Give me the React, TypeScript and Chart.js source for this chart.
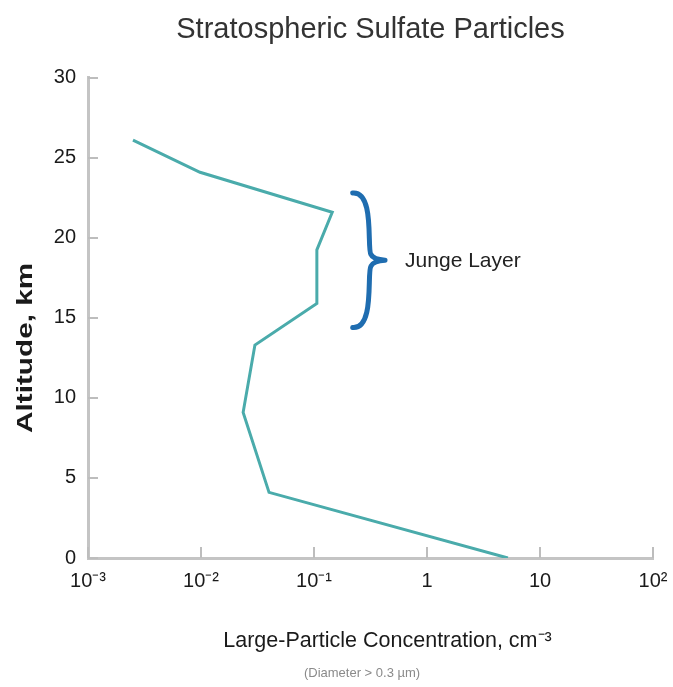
import React, { useEffect, useRef } from "react";
import { Chart, registerables } from "chart.js";

Chart.register(...registerables);

// ---- data ----
const altitudeKm = [26.1, 24.1, 21.6, 19.25, 15.9, 13.3, 9.1, 4.1, 0];
const concentration = [0.0025, 0.0098, 0.145, 0.106, 0.106, 0.03, 0.0236, 0.04, 5.2];

const xTickValues = [0.001, 0.01, 0.1, 1, 10, 100];
const xTickLabels = ["10⁻³", "10⁻²", "10⁻¹", "1", "10", "10²"];
const yTickValues = [0, 5, 10, 15, 20, 25, 30];

const titleText = "Stratospheric Sulfate Particles";
const xTitleText = "Large-Particle Concentration, cm⁻³";
const xSubtitleText = "(Diameter > 0.3 µm)";
const yTitleText = "Altitude, km";

// Junge layer annotation (data coordinates)
const braceTopKm = 22.8;
const braceBottomKm = 14.4;
const braceMidKm = 18.6;
const braceLeftConc = 0.22;
const braceRightConc = 0.425;
const jungeLabelConc = 0.64;
const jungeLabel = "Junge Layer";

const FONT = "'Liberation Sans', Arial, sans-serif";

const annotations = {
  id: "annotations",
  afterDatasetsDraw(chart: any) {
    const { ctx, scales, chartArea } = chart;
    const x = scales.x;
    const y = scales.y;
    ctx.save();
    // inward ticks
    ctx.strokeStyle = "#bdbdbd";
    ctx.lineWidth = 2;
    ctx.beginPath();
    for (const v of yTickValues) {
      const py = Math.round(y.getPixelForValue(v));
      ctx.moveTo(chartArea.left, py);
      ctx.lineTo(chartArea.left + 10, py);
    }
    for (const v of xTickValues) {
      const px = Math.round(x.getPixelForValue(v));
      ctx.moveTo(px, chartArea.bottom);
      ctx.lineTo(px, chartArea.bottom - 11);
    }
    ctx.stroke();

    // Brace
    const top = y.getPixelForValue(braceTopKm);
    const bot = y.getPixelForValue(braceBottomKm);
    const mid = y.getPixelForValue(braceMidKm);
    const l = x.getPixelForValue(braceLeftConc);
    const r = x.getPixelForValue(braceRightConc);
    const m = (l + r) / 2;
    ctx.strokeStyle = "#1f6db0";
    ctx.lineWidth = 5;
    ctx.lineCap = "round";
    ctx.beginPath();
    ctx.moveTo(l, top);
    ctx.bezierCurveTo(m + 6, top - 2, m - 2, mid - 12, m + 2, mid - 6);
    ctx.quadraticCurveTo(m + 4, mid - 1, r, mid);
    ctx.moveTo(r, mid);
    ctx.quadraticCurveTo(m + 4, mid + 1, m + 2, mid + 6);
    ctx.bezierCurveTo(m - 2, mid + 12, m + 6, bot + 2, l, bot);
    ctx.stroke();

    ctx.fillStyle = "#222";
    ctx.font = `21px ${FONT}`;
    ctx.textBaseline = "middle";
    ctx.textAlign = "left";
    ctx.fillText(jungeLabel, x.getPixelForValue(jungeLabelConc), mid + 1);

    // axis titles
    ctx.fillStyle = "#1a1a1a";
    ctx.textAlign = "center";
    ctx.textBaseline = "alphabetic";
    ctx.font = `21.5px ${FONT}`;
    ctx.fillText(xTitleText, chartArea.left + (chartArea.right - chartArea.left) * 0.53, chartArea.bottom + 89);
    ctx.fillStyle = "#8a8a8a";
    ctx.font = `13px ${FONT}`;
    ctx.fillText(xSubtitleText, chartArea.left + (chartArea.right - chartArea.left) * 0.485, chartArea.bottom + 119);

    ctx.save();
    ctx.translate(26, (chartArea.top + chartArea.bottom) / 2 + 30);
    ctx.rotate(-Math.PI / 2);
    ctx.scale(1.35, 1);
    ctx.fillStyle = "#1a1a1a";
    ctx.font = `bold 22px ${FONT}`;
    ctx.textBaseline = "middle";
    ctx.fillText(yTitleText, 0, 0);
    ctx.restore();

    ctx.restore();
  },
};

export default function App() {
  const ref = useRef<HTMLCanvasElement | null>(null);
  useEffect(() => {
    if (!ref.current) return;
    const data = concentration.map((c, i) => ({ x: c, y: altitudeKm[i] }));
    const chart = new Chart(ref.current, {
      type: "line",
      data: {
        datasets: [
          {
            data,
            borderColor: "#4aabab",
            borderWidth: 3,
            pointRadius: 0,
            fill: false,
            tension: 0,
          },
        ],
      },
      options: {
        animation: false,
        responsive: false,
        maintainAspectRatio: false,
        layout: { padding: { left: 0, right: 20, top: 0, bottom: 0 } },
        plugins: {
          legend: { display: false },
          tooltip: { enabled: false },
          title: {
            display: true,
            text: titleText,
            fullSize: false,
            color: "#333",
            font: { family: FONT, size: 29, weight: "normal" },
            padding: { top: 13, bottom: 30 },
          },
        },
        scales: {
          x: {
            type: "logarithmic",
            min: 0.001,
            max: 100,
            afterBuildTicks: (scale: any) => {
              scale.ticks = xTickValues.map((v) => ({ value: v }));
            },
            afterFit: (scale: any) => {
              scale.height = 129;
              scale.paddingLeft = 0;
              scale.paddingRight = 0;
            },
            grid: { display: false, drawTicks: false },
            border: { display: true, color: "#c4c4c4", width: 3 },
            ticks: {
              autoSkip: false,
              maxRotation: 0,
              padding: 11,
              color: "#1a1a1a",
              font: { family: FONT, size: 20 },
              callback: (v: any) => {
                const i = xTickValues.findIndex((t) => Math.abs(Math.log10(t) - Math.log10(Number(v))) < 1e-6);
                return i >= 0 ? xTickLabels[i] : "";
              },
            },
          },
          y: {
            type: "linear",
            min: 0,
            max: 30,
            afterBuildTicks: (scale: any) => {
              scale.ticks = yTickValues.map((v) => ({ value: v }));
            },
            afterFit: (scale: any) => {
              scale.width = 88;
              scale.paddingTop = 0;
              scale.paddingBottom = 0;
            },
            grid: { display: false, drawTicks: false },
            border: { display: true, color: "#c4c4c4", width: 3 },
            ticks: {
              padding: 12,
              color: "#1a1a1a",
              font: { family: FONT, size: 20 },
            },
          },
        },
      },
      plugins: [annotations],
    });
    return () => chart.destroy();
  }, []);
  return (
    <div style={{ position: "fixed", left: 0, top: 0, width: 673, height: 687, background: "#fff" }}>
      <canvas ref={ref} width={673} height={687} style={{ width: 673, height: 687, display: "block" }} />
    </div>
  );
}
